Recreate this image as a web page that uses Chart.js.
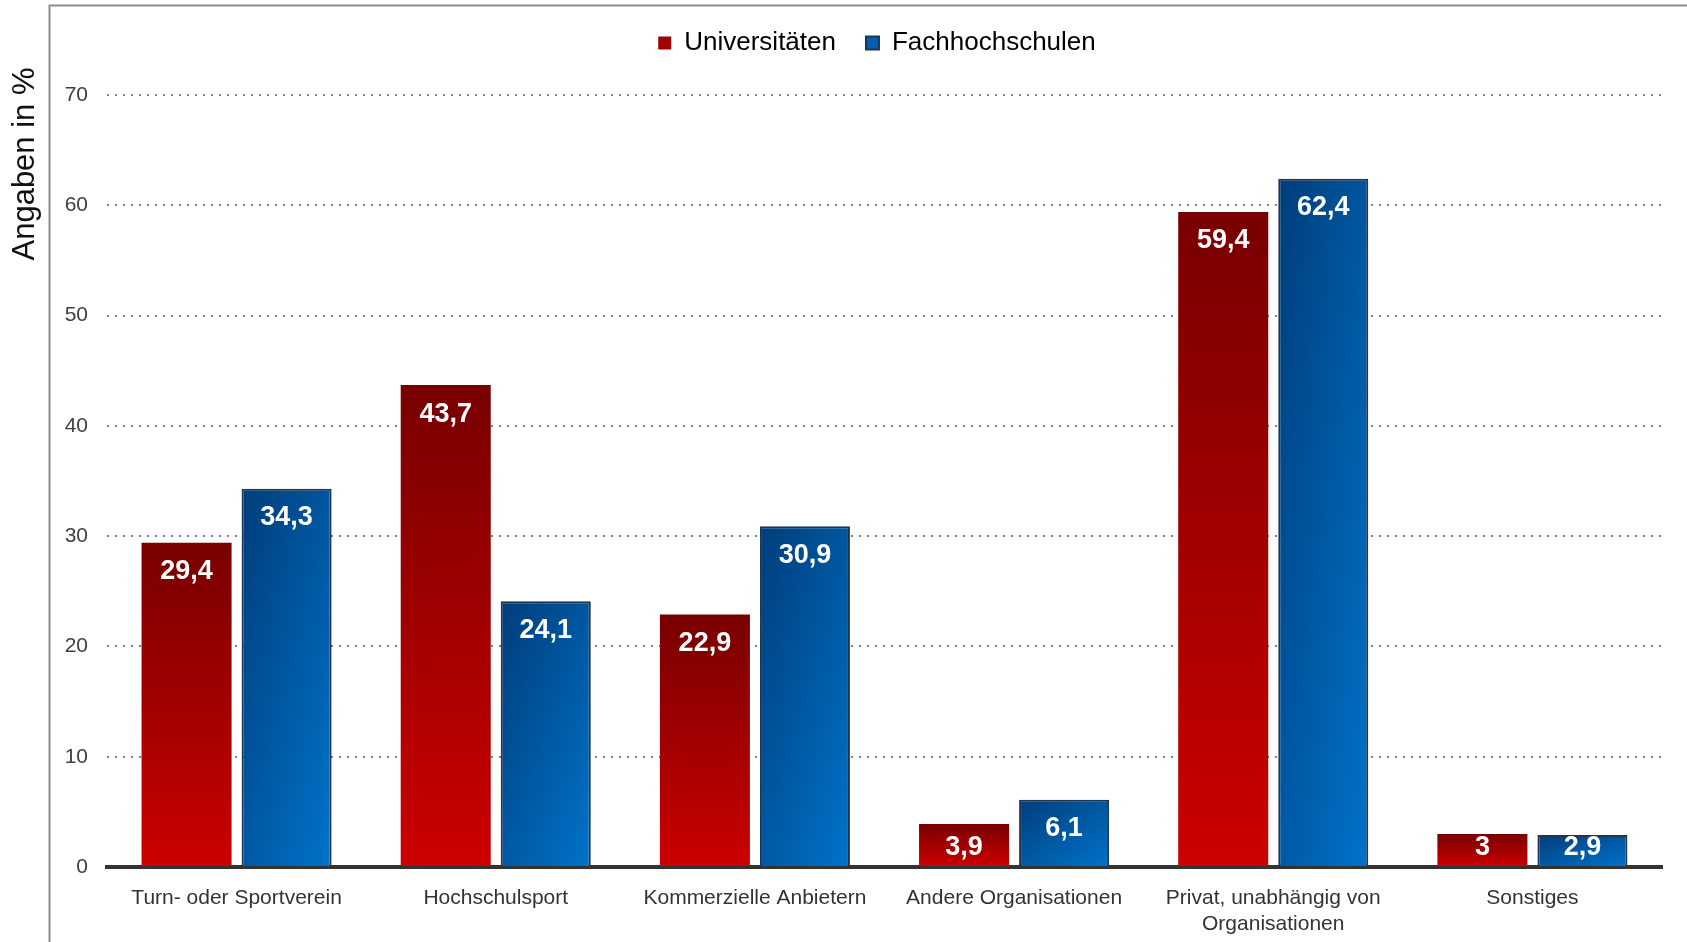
<!DOCTYPE html>
<html>
<head>
<meta charset="utf-8">
<script src="https://cdn.jsdelivr.net/npm/chart.js@4"></script>
<style>
  html, body { margin: 0; padding: 0; background: #fff; }
  canvas { display: block; }
</style>
</head>
<body>
<canvas id="myChart" width="1687" height="942"></canvas>
<script>
var categories = ['Turn- oder Sportverein', 'Hochschulsport', 'Kommerzielle Anbietern', 'Andere Organisationen', ['Privat, unabhängig von', 'Organisationen'], 'Sonstiges'];
var seriesNames = ['Universitäten', 'Fachhochschulen'];
var uniValues = [29.4, 43.7, 22.9, 3.9, 59.4, 3];
var fhValues = [34.3, 24.1, 30.9, 6.1, 62.4, 2.9];
var yTicks = [0, 10, 20, 30, 40, 50, 60, 70];

var catPct = 0.772, barPct = 0.9;
var FONT = "'Liberation Sans', Arial, sans-serif";

// bar geometry taken from the scales, used for the gradients
function barBox(c, side) {
  var xs = c.chart.scales.x, ys = c.chart.scales.y;
  var cw = xs.width / categories.length;
  var slot = cw * catPct / 2;
  var center = xs.getPixelForValue(c.dataIndex);
  var l = side === 0 ? center - slot : center;
  return { l: l, r: l + slot, t: ys.getPixelForValue(c.raw), b: ys.getPixelForValue(0) };
}

function redFill(c) {
  if (c.type !== 'data' || !c.chart.chartArea) return '#a30000';
  var b = barBox(c, 0);
  var g = c.chart.ctx.createLinearGradient(0, b.t, 0, b.b);
  g.addColorStop(0, '#780000');
  g.addColorStop(1, '#cc0000');
  return g;
}

function blueFill(c) {
  if (c.type !== 'data' || !c.chart.chartArea) return '#0058a8';
  var b = barBox(c, 1);
  var W = Math.max(b.r - b.l, 1), H = Math.max(b.b - b.t, 1);
  // diagonal in normalised box coordinates: top-left dark, bottom-right light
  var k = 2 / (1 / (W * W) + 1 / (H * H));
  var g = c.chart.ctx.createLinearGradient(b.l, b.t, b.l + k / W, b.t + k / H);
  g.addColorStop(0, '#003c78');
  g.addColorStop(1, '#0074cc');
  return g;
}

var framePlugin = {
  id: 'frame',
  beforeLayout: function (chart) {
    var lg = chart.legend;
    if (lg && !lg._fitWrapped) {
      var fit = lg.fit;
      lg.fit = function () {
        fit.apply(this, arguments);
        this.height = 95;
      };
      lg._fitWrapped = true;
    }
  },
  afterLayout: function (chart) {
    if (chart.legend) {
      chart.legend.left += 46;
      chart.legend.right += 46;
    }
  },
  beforeDraw: function (chart) {
    var ctx = chart.ctx;
    ctx.save();
    ctx.strokeStyle = '#8c8c8c';
    ctx.lineWidth = 2;
    ctx.beginPath();
    ctx.moveTo(49.5, chart.height);
    ctx.lineTo(49.5, 5.5);
    ctx.lineTo(chart.width, 5.5);
    ctx.stroke();
    // y axis title
    ctx.translate(25, 164);
    ctx.rotate(-Math.PI / 2);
    ctx.fillStyle = '#111';
    ctx.font = '31px ' + FONT;
    ctx.textAlign = 'center';
    ctx.textBaseline = 'middle';
    ctx.fillText('Angaben in %', 0, 0);
    ctx.restore();
  }
};

var valueLabels = {
  id: 'valueLabels',
  afterDatasetsDraw: function (chart) {
    var ctx = chart.ctx;
    ctx.save();
    ctx.fillStyle = '#fff';
    ctx.font = 'bold 27px ' + FONT;
    ctx.textAlign = 'center';
    ctx.textBaseline = 'middle';
    chart.data.datasets.forEach(function (ds, i) {
      chart.getDatasetMeta(i).data.forEach(function (bar, j) {
        var y = Math.min(bar.y + 29, bar.base - 18);
        ctx.fillText(String(ds.data[j]).replace('.', ','), bar.x, y);
      });
    });
    ctx.restore();
  }
};

var ctx = document.getElementById('myChart').getContext('2d');
var myChart = new Chart(ctx, {
  type: 'bar',
  data: {
    labels: categories,
    datasets: [{
      label: seriesNames[0],
      data: uniValues,
      backgroundColor: redFill,
      borderWidth: 0
    }, {
      label: seriesNames[1],
      data: fhValues,
      backgroundColor: blueFill,
      borderColor: '#1b3553',
      borderWidth: 2
    }]
  },
  options: {
    responsive: false,
    animation: false,
    categoryPercentage: catPct,
    barPercentage: barPct,
    layout: { padding: { left: 0, right: 25, top: 0, bottom: 0 } },
    scales: {
      x: {
        grid: { display: false, drawTicks: false },
        border: { display: true, color: '#333', width: 4 },
        ticks: {
          color: '#333',
          font: { family: FONT, size: 21 },
          padding: 19,
          maxRotation: 0,
          autoSkip: false
        },
        afterFit: function (s) { s.height = 75; }
      },
      y: {
        min: 0,
        max: 70,
        afterBuildTicks: function (s) { s.ticks = yTicks.map(function (v) { return { value: v }; }); },
        grid: {
          color: '#808080',
          lineWidth: 2,
          drawTicks: false
        },
        border: { display: false, dash: [2, 6] },
        ticks: {
          color: '#404040',
          font: { family: FONT, size: 21 },
          padding: 19
        },
        afterFit: function (s) { s.width = 107; }
      }
    },
    plugins: {
      legend: {
        position: 'top',
        labels: {
          color: '#333',
          font: { family: FONT, size: 26 },
          boxWidth: 13,
          boxHeight: 13,
          padding: 30,
          generateLabels: function () {
            return [
              { text: seriesNames[0], fillStyle: '#a30000', strokeStyle: '#a30000', lineWidth: 0, datasetIndex: 0 },
              { text: seriesNames[1], fillStyle: '#0060b4', strokeStyle: '#1b3553', lineWidth: 2, datasetIndex: 1 }
            ];
          }
        }
      },
      tooltip: { enabled: false }
    }
  },
  plugins: [framePlugin, valueLabels]
});
</script>
</body>
</html>
